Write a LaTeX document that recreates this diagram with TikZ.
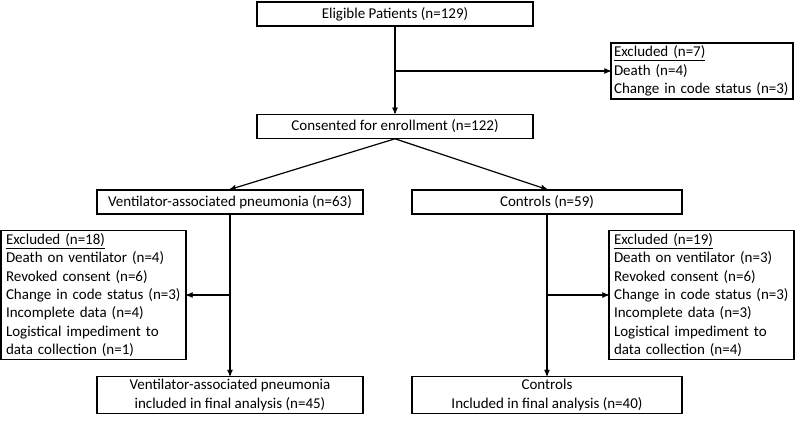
\documentclass[tikz,border=0pt]{standalone}
\usepackage{fontspec}
\setmainfont{Carlito}
\usepackage{tikz}
\usetikzlibrary{arrows,positioning}

\begin{document}
\begin{tikzpicture}[
    x=1pt,y=-1pt,
    font=\fontsize{15}{18.3}\selectfont,
    box/.style={draw,line width=1.2pt,minimum height=24pt,inner sep=3pt},
    exclbox/.style={draw,line width=1.2pt,align=left,inner xsep=5pt,inner ysep=3pt},
    post/.style={->,>=stealth',line width=1.2pt}
    ]

\useasboundingbox (0,0) rectangle (797,420);

\node[box,minimum width=276pt] (elig) at (395,14) {Eligible Patients (n=129)};
\node[box,minimum width=276pt,below=87pt of elig] (consent) {Consented for enrollment (n=122)};

\node[exclbox,text width=176pt,inner xsep=3pt] (excl7) at (702,71)
  {\underline{Excluded (n=7)}\\Death (n=4)\\Change in code status (n=3)};

\node[box,minimum width=266pt] (vap) at (230,202) {Ventilator-associated pneumonia (n=63)};
\node[box,minimum width=270pt] (ctrl) at (547,202) {Controls (n=59)};

\node[exclbox,text width=175pt] (excl18) at (93.5,295)
  {\underline{Excluded (n=18)}\\Death on ventilator (n=4)\\Revoked consent (n=6)\\Change in code status (n=3)\\Incomplete data (n=4)\\Logistical impediment to\\data collection (n=1)};
\node[exclbox,text width=175pt] (excl19) at (701.5,295)
  {\underline{Excluded (n=19)}\\Death on ventilator (n=3)\\Revoked consent (n=6)\\Change in code status (n=3)\\Incomplete data (n=3)\\Logistical impediment to\\data collection (n=4)};

\node[box,align=center,minimum width=266pt] (finvap) at (230,395)
  {Ventilator-associated pneumonia\\included in final analysis (n=45)};
\node[box,align=center,minimum width=270pt] (finctrl) at (547,395)
  {Controls\\Included in final analysis (n=40)};

\coordinate (j1) at (elig.south |- excl7.west);
\coordinate (j2) at (vap.south |- excl18.east);
\coordinate (j3) at (ctrl.south |- excl19.west);

\draw[post] (elig) -- (consent);
\draw[post] (j1) -- (excl7.west);
\draw[post] (consent.south) -- (vap.north);
\draw[post] (consent.south) -- (ctrl.north);
\draw[post] (vap) -- (finvap);
\draw[post] (j2) -- (excl18.east);
\draw[post] (ctrl) -- (finctrl);
\draw[post] (j3) -- (excl19.west);

\end{tikzpicture}
\end{document}
